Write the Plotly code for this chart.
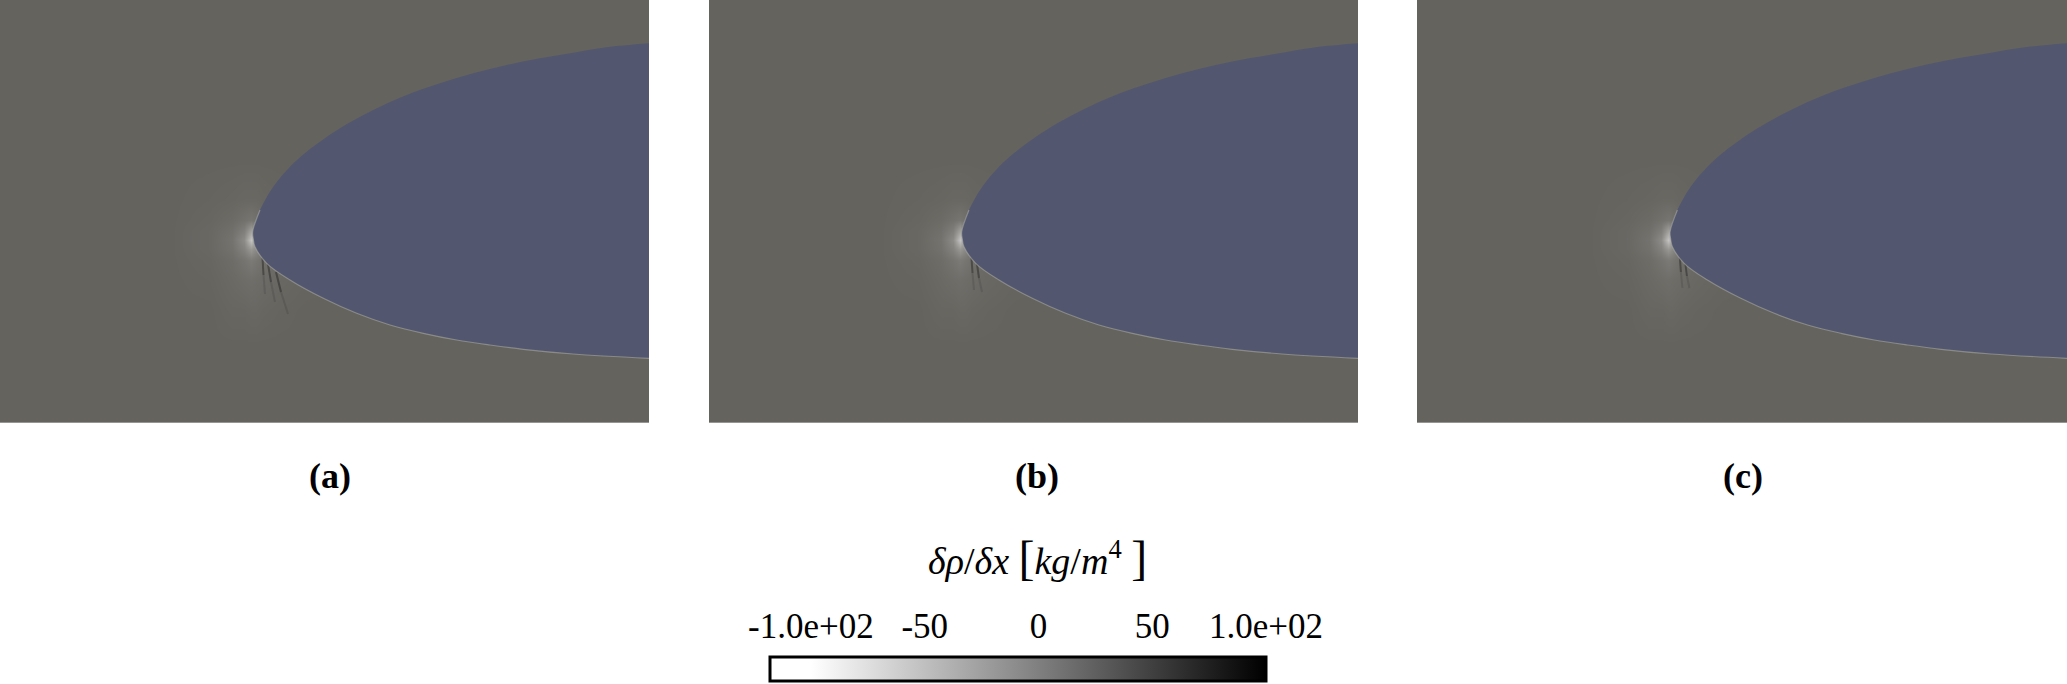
import plotly.graph_objects as go

W, H = 2067, 684

# body outline (panel pixel units, y pointing down)
upper_x = [649.3, 606.7, 573.3, 540, 506.7, 473.3, 440, 406.7, 373.3, 340, 306.7, 290, 273.3, 260, 252.7]
upper_y = [43.3, 47.3, 52.7, 58.3, 65, 73.3, 83.3, 95, 110, 128.3, 151.7, 166.7, 186.7, 210, 231.7]
lower_x = [253.3, 255, 266.7, 290, 323.3, 356.7, 390, 423.3, 456.7, 490, 523.3, 573.3, 649.3]
lower_y = [239, 246.7, 263.3, 280, 298.3, 313.3, 325, 333.3, 340, 345, 349.3, 354, 358.3]

# light region around the leading edge (estimated d rho / dx values)
glow_x = [170, 210, 232, 244, 251, 256, 263, 278, 305, 340]
glow_y = [160, 200, 220, 231, 240, 249, 260, 280, 310, 345]
glow_z = [
    [0, 0, 0, 0, 0, 0, 0, 0, 0, 0],
    [0, -1, -2, -3, -3, -3, -2, -1, 0, 0],
    [0, -2, -5, -9, -12, -9, -5, -2, -1, 0],
    [0, -3, -8, -18, -40, -24, -8, -3, -1, 0],
    [0, -3, -10, -26, -62, -32, -10, -4, -1, 0],
    [0, -3, -9, -20, -34, -24, -10, -4, -1, 0],
    [0, -2, -6, -11, -15, -12, -8, -4, -1, 0],
    [0, -1, -4, -6, -7, -6, -5, -3, -1, 0],
    [0, 0, -2, -2, -3, -3, -2, -1, 0, 0],
    [0, 0, 0, 0, 0, 0, 0, 0, 0, 0],
]

# dark streaks below the leading edge, one list per panel
streaks_x = [
    [[262.5, 263.5, 265], [268, 271, 275], [276, 281, 288]],
    [[262.5, 263.5, 265], [268, 270, 273]],
    [[262.5, 263.5, 265], [268, 269.5, 272]],
]
streaks_y = [
    [[258, 275, 294], [264, 282, 302], [272, 292, 314]],
    [[258, 273, 290], [264, 278, 292]],
    [[258, 272, 288], [264, 276, 288]],
]

panel_labels = ["(a)", "(b)", "(c)"]
label_x = [330, 1037, 1743]

cb_ticks = [-100, -50, 0, 50, 100]
cb_text = ["-1.0e+02", "-50", "0", "50", "1.0e+02"]
cb_min, cb_max = -118, 100

bg = "rgb(101,99,94)"
body = "rgb(82,87,111)"
field_scale = [[0, "rgb(255,255,255)"], [0.5, bg], [1, "rgb(0,0,0)"]]
cb_scale = [[0, "white"], [(-100 - cb_min) / (cb_max - cb_min), "white"], [1, "black"]]

x_domains = [[0, 649 / W], [709 / W, 1358 / W], [1417 / W, 1]]
y_domain = [1 - 422 / H, 1]

fig = go.Figure()
shapes = []

for i in range(3):
    xa = "x" if i == 0 else f"x{i + 1}"
    ya = "y" if i == 0 else f"y{i + 1}"

    fig.add_trace(go.Heatmap(
        x=glow_x, y=glow_y, z=glow_z, zsmooth="best",
        colorscale=field_scale, zmin=-100, zmax=100, showscale=False,
        hoverinfo="skip", xaxis=xa, yaxis=ya,
    ))

    for sx, sy in zip(streaks_x[i], streaks_y[i]):
        fig.add_trace(go.Scatter(
            x=sx[:2], y=sy[:2], mode="lines",
            line=dict(color="rgba(30,30,30,0.45)", width=2),
            hoverinfo="skip", showlegend=False, xaxis=xa, yaxis=ya,
        ))
        fig.add_trace(go.Scatter(
            x=sx[1:], y=sy[1:], mode="lines",
            line=dict(color="rgba(45,45,45,0.18)", width=2),
            hoverinfo="skip", showlegend=False, xaxis=xa, yaxis=ya,
        ))

    fig.add_trace(go.Scatter(
        x=upper_x + lower_x, y=upper_y + lower_y, mode="lines",
        line=dict(width=0, shape="spline", color=body),
        fill="toself", fillcolor=body,
        hoverinfo="skip", showlegend=False, xaxis=xa, yaxis=ya,
    ))
    # light rim along the lower surface and the nose
    fig.add_trace(go.Scatter(
        x=upper_x[-2:] + lower_x, y=upper_y[-2:] + lower_y, mode="lines",
        line=dict(width=1.2, shape="spline", color="rgba(175,175,165,0.55)"),
        hoverinfo="skip", showlegend=False, xaxis=xa, yaxis=ya,
    ))

    shapes.append(dict(
        type="rect", xref=f"{xa} domain", yref=f"{ya} domain",
        x0=0, x1=1, y0=0, y1=1, fillcolor=bg, line=dict(width=0), layer="below",
    ))

    ax = dict(domain=x_domains[i], range=[0, 649], anchor=ya, showgrid=False,
              zeroline=False, showticklabels=False, ticks="", showline=True,
              linecolor="rgb(150,149,146)", linewidth=1, fixedrange=True)
    ay = dict(domain=y_domain, range=[422, 0], anchor=xa, showgrid=False,
              zeroline=False, showticklabels=False, ticks="", fixedrange=True)
    key = "" if i == 0 else str(i + 1)
    fig.layout["xaxis" + key] = ax
    fig.layout["yaxis" + key] = ay

# colour bar, carried by an invisible scatter on its own axes
fig.add_trace(go.Scatter(
    x=cb_ticks[:2], y=[5, 5], mode="markers", xaxis="x4", yaxis="y4",
    hoverinfo="skip", showlegend=False,
    marker=dict(
        size=1, color=cb_ticks[:2], colorscale=cb_scale, cmin=cb_min, cmax=cb_max,
        showscale=True,
        colorbar=dict(
            orientation="h", x=1018 / W, xanchor="center", y=0, yanchor="bottom",
            len=496, lenmode="pixels", thickness=24, thicknessmode="pixels",
            outlinewidth=3, outlinecolor="black", xpad=0, ypad=0,
            showticklabels=False, ticks="",
        ),
    ),
))

fig.layout.xaxis4 = dict(
    domain=[770 / W, 1266 / W], range=[cb_min, cb_max], anchor="y4", side="top",
    tickvals=cb_ticks, ticktext=cb_text, ticks="", showgrid=False, zeroline=False,
    showline=False, fixedrange=True,
    tickfont=dict(family="Liberation Serif", size=35, color="black"),
)
fig.layout.yaxis4 = dict(domain=[0, (H - 646) / H], range=[0, 1], visible=False, fixedrange=True)

annotations = []
for lab, lx in zip(panel_labels, label_x):
    annotations.append(dict(
        text=f"<b>{lab}</b>", x=lx / W, y=1 - 476 / H, xref="paper", yref="paper",
        xanchor="center", yanchor="middle", showarrow=False,
        font=dict(family="Liberation Serif", size=36, color="black"),
    ))
annotations.append(dict(
    text="<i>δρ</i>/<i>δx</i> <span style='font-size:48px'>[</span><i>kg</i>/<i>m</i><sup>4</sup> <span style='font-size:48px'>]</span>",
    x=1037 / W, y=1 - 557 / H, xref="paper", yref="paper",
    xanchor="center", yanchor="middle", showarrow=False,
    font=dict(family="Liberation Serif", size=38, color="black"),
))

fig.update_layout(
    width=W, height=H,
    margin=dict(l=0, r=0, t=0, b=0, autoexpand=False),
    paper_bgcolor="white", plot_bgcolor="white",
    showlegend=False, shapes=shapes, annotations=annotations,
)

fig.write_html("out.html", config={"displayModeBar": False},
               post_script="document.body.style.margin='0';")
